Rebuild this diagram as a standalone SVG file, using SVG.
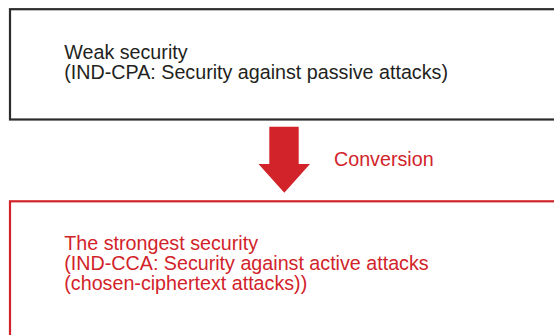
<svg xmlns="http://www.w3.org/2000/svg" width="554" height="335" viewBox="0 0 554 335">
<style>
.t{font-family:"Liberation Sans",Arial,sans-serif;font-size:19.7px}
.blk{fill:#231f20}
.red{fill:#d2232a}
</style>
<rect width="554" height="335" fill="#ffffff"/>
<g id="weak">
<rect x="10" y="9.2" width="560" height="110.3" fill="none" stroke="#2b2b2b" stroke-width="2.2"/>
<text class="t blk" x="64.3" y="59">Weak security</text>
<text class="t blk" x="64.3" y="79.2">(IND-CPA: Security against passive attacks)</text>
</g>
<g id="connectors">
<polygon points="269.3,126.7 298.7,126.7 298.7,164 310,164 284.3,192.7 258.5,164 269.3,164" fill="#d2232a"/>
<text class="t red" x="334" y="166">Conversion</text>
</g>
<g id="strong">
<rect x="10" y="201.3" width="560" height="150" fill="none" stroke="#d2232a" stroke-width="2.2"/>
<text class="t red" x="64.3" y="250">The strongest security</text>
<text class="t red" x="64.3" y="270">(IND-CCA: Security against active attacks</text>
<text class="t red" x="64.3" y="290">(chosen-ciphertext attacks))</text>
</g>
</svg>
